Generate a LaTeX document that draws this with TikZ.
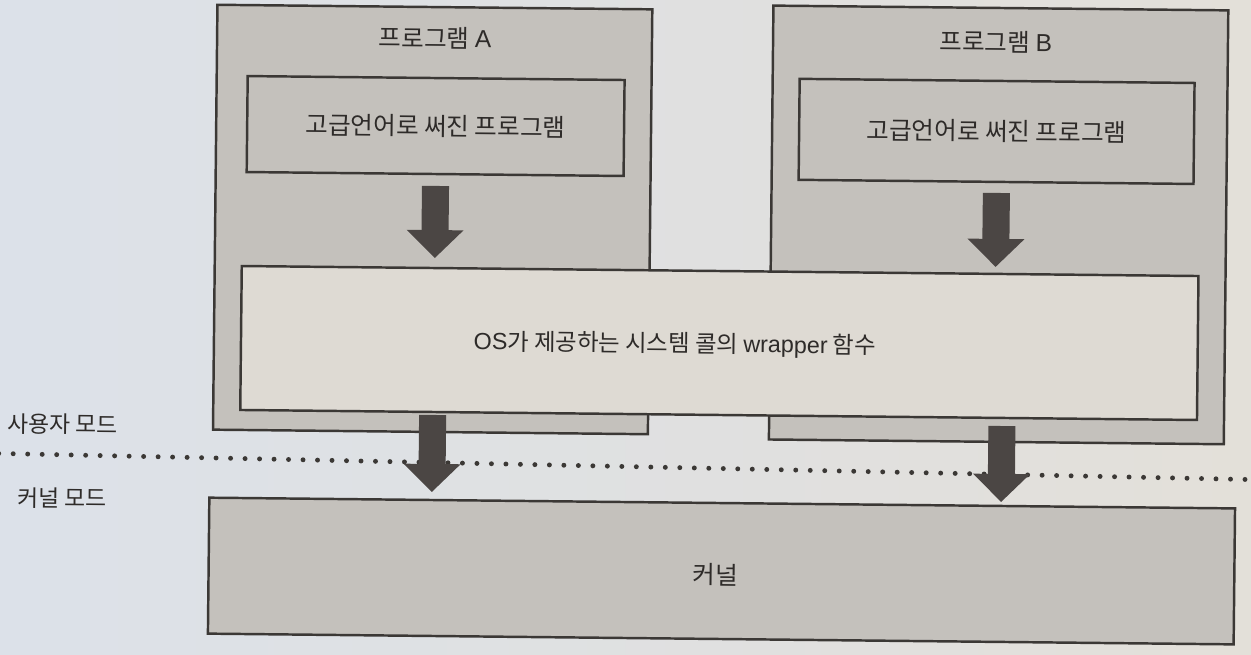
\documentclass[tikz,border=0pt]{standalone}
\usepackage{fontspec}
\newfontfamily\kr{Noto Sans CJK KR}
\newfontfamily\lat{Liberation Sans}
\usetikzlibrary{arrows.meta}
\definecolor{bgL}{HTML}{DCE1E9}
\definecolor{bgR}{HTML}{E3E0D9}
\definecolor{boxfill}{HTML}{C4C1BC}
\definecolor{wrapfill}{HTML}{DEDAD3}
\definecolor{edge}{HTML}{3B3835}
\definecolor{arrowc}{HTML}{4B4644}
\definecolor{txt}{HTML}{2E2B29}
\begin{document}
\begin{tikzpicture}[x=0.02cm,y=-0.02cm,
  box/.style={draw=edge,line width=1.4pt,fill=boxfill,inner sep=0pt,outer sep=0pt},
  lbl/.style={font=\kr\fontsize{14}{16}\selectfont,text=txt,inner sep=0pt},
  side/.style={font=\kr\fontsize{13}{15}\selectfont,text=txt,inner sep=0pt},
  fat/.style={draw=arrowc,line width=15.4pt,-{Triangle[width=32.4pt,length=15.9pt,line width=0pt]}},
  dots/.style={draw=edge,line width=2.8pt,line cap=round,dash pattern=on 0pt off 8.25pt}]
\useasboundingbox (0,0) rectangle (1251,654);
\fill[left color=bgL,right color=bgR] (0,0) rectangle (1251,654);
\begin{scope}[rotate around={-0.6:(625,330)},transform shape]
  % program boxes
  \node[box,minimum width=8.70cm,minimum height=8.50cm] (progA) at (431.5,221.5) {};
  \node[box,minimum width=9.10cm,minimum height=8.68cm] (progB) at (997.5,221) {};
  \node[lbl] (titleA) at (432,40) {프로그램 {\lat A}};
  \node[lbl] (titleB) at (993,38) {프로그램 {\lat B}};
  \node[box,lbl,minimum width=7.54cm,minimum height=1.92cm] (hlA) at (433.5,128) {고급언어로 써진 프로그램};
  \node[box,lbl,minimum width=7.90cm,minimum height=2.02cm] (hlB) at (994.5,127.5) {고급언어로 써진 프로그램};
  % wrapper
  \node[box,fill=wrapfill,minimum width=19.14cm,minimum height=2.88cm] (wrap) at (719.5,342) {};
  \node[lbl,font=\kr\fontsize{13.3}{15}\selectfont] (wrapT) at (675,344) {{\lat OS}가 제공하는 시스템 콜의 {\lat wrapper} 함수};
  % mode labels and boundary
  \node[side] (umode) at (64,430) {사용자 모드};
  \node[side] (kmode) at (64,504) {커널 모드};
  \coordinate (dl) at (0,460);
  \coordinate (dr) at (1251,473);
  \draw[dots] (dl) -- (dr);
  % kernel
  \node[box,minimum width=20.52cm,minimum height=2.72cm] (kern) at (724,570) {};
  \node[lbl] (kernT) at (718,574) {커널};
  % arrows
  \draw[fat,shorten <=6.8pt,shorten >=5.7pt] ([xshift=0.01cm]hlA.south) -- ([xshift=-5.71cm]wrap.north);
  \draw[fat,shorten <=6.3pt,shorten >=4pt] ([xshift=0.01cm]hlB.south) -- ([xshift=5.51cm]wrap.north);
  \draw[fat,shorten <=1.7pt,shorten >=4.6pt] ([xshift=-5.72cm]wrap.south) -- ([xshift=-5.81cm]kern.north);
  \draw[fat,shorten <=4.6pt,shorten >=2.3pt] ([xshift=5.67cm]wrap.south) -- ([xshift=5.58cm]kern.north);
\end{scope}
\end{tikzpicture}
\end{document}
